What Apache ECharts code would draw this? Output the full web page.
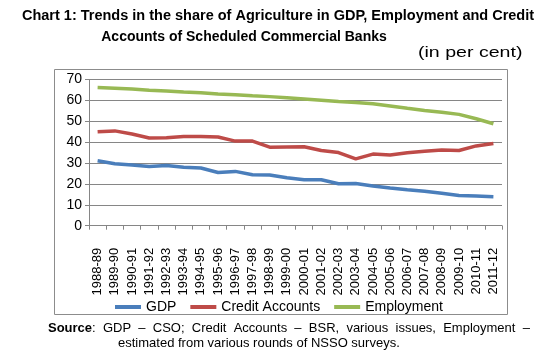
<!DOCTYPE html>
<html><head><meta charset="utf-8">
<script src="https://cdn.jsdelivr.net/npm/echarts@6/dist/echarts.min.js"></script>
<style>html,body{margin:0;padding:0;background:#fff}#c{width:555px;height:356px}</style>
</head><body><div id="c"></div>
<script>
const categories = ['1988-89','1989-90','1990-91','1991-92','1992-93','1993-94','1994-95','1995-96','1996-97','1997-98','1998-99','1999-00','2000-01','2001-02','2002-03','2003-04','2004-05','2005-06','2006-07','2007-08','2008-09','2009-10','2010-11','2011-12'];
const gdp = [31.1,29.7,29.1,28.3,28.8,28.0,27.6,25.5,26.0,24.4,24.3,23.0,22.0,22.0,20.1,20.2,19.0,18.0,17.2,16.5,15.5,14.5,14.2,13.9];
const credit = [45.0,45.4,43.9,42.0,42.1,42.7,42.7,42.5,40.5,40.5,37.6,37.7,37.8,36.0,35.0,32.0,34.3,33.8,34.9,35.6,36.2,36.0,38.2,39.4];
const employment = [66.2,65.8,65.4,64.9,64.5,64.0,63.6,63.1,62.7,62.2,61.8,61.3,60.7,60.1,59.5,59.0,58.4,57.3,56.2,55.2,54.3,53.3,51.2,48.8];
const yTicks = [0,10,20,30,40,50,60,70];

const chart = echarts.init(document.getElementById('c'));
const F = 'Arial, "Liberation Sans", sans-serif';
chart.setOption({
  animation:false,
  textStyle:{fontFamily:F},
  graphic:[
    {type:'rect',shape:{x:54.5,y:69.5,width:453,height:245},style:{fill:'none',stroke:'#8c8c8c',lineWidth:1},z:-1},
    {type:'text',x:278,y:16,style:{text:'Chart 1: Trends in the share of Agriculture in GDP, Employment and Credit',align:'center',verticalAlign:'middle',fontFamily:F,fontSize:14.5,fontWeight:'bold',fill:'#000'}},
    {type:'text',x:244,y:37.5,style:{text:'Accounts of Scheduled Commercial Banks',align:'center',verticalAlign:'middle',fontFamily:F,fontSize:14,fontWeight:'bold',fill:'#000'}},
    {type:'text',x:418,y:53,scaleX:1.35,style:{text:'(in per cent)',align:'left',verticalAlign:'middle',fontFamily:F,fontSize:14.5,fill:'#000'}},
    {type:'text',x:48,y:328,style:{text:'{b|Source}:  GDP  –  CSO;  Credit  Accounts  –  BSR,  various  issues,  Employment  –',verticalAlign:'middle',fontFamily:F,fontSize:13,fill:'#000',rich:{b:{fontWeight:'bold',fontFamily:F,fontSize:13}}}},
    {type:'text',x:118,y:343,style:{text:'estimated from various rounds of NSSO surveys.',verticalAlign:'middle',fontFamily:F,fontSize:13,fill:'#000'}}
  ],
  legend:{
    data:['GDP','Credit Accounts','Employment'],
    left:110,top:295,itemWidth:26,itemHeight:4,itemGap:14,icon:'rect',
    textStyle:{fontFamily:F,fontSize:14,color:'#000'}
  },
  grid:{left:89,right:53,top:79.5,bottom:130.3,containLabel:false},
  xAxis:{
    type:'category',data:categories,boundaryGap:true,
    axisLine:{lineStyle:{color:'#868686',width:1}},
    axisTick:{show:true,alignWithLabel:false,length:4,lineStyle:{color:'#868686'}},
    axisLabel:{rotate:90,interval:0,fontSize:13,color:'#000',margin:22,fontFamily:F}
  },
  yAxis:{
    type:'value',min:0,max:70,interval:10,
    axisLine:{show:true,lineStyle:{color:'#868686',width:1}},
    axisTick:{show:true,length:4,lineStyle:{color:'#868686'}},
    axisLabel:{fontSize:14,color:'#000',margin:7,fontFamily:F,formatter:v=>yTicks.includes(v)?String(v):''},
    splitLine:{lineStyle:{color:'#868686',width:1}}
  },
  series:[
    {name:'GDP',type:'line',data:gdp,symbol:'none',lineStyle:{width:3.5,color:'#4a7ebb'},itemStyle:{color:'#4a7ebb'}},
    {name:'Credit Accounts',type:'line',data:credit,symbol:'none',lineStyle:{width:3.5,color:'#be4b48'},itemStyle:{color:'#be4b48'}},
    {name:'Employment',type:'line',data:employment,symbol:'none',lineStyle:{width:3.5,color:'#98b954'},itemStyle:{color:'#98b954'}}
  ]
});
</script></body></html>
